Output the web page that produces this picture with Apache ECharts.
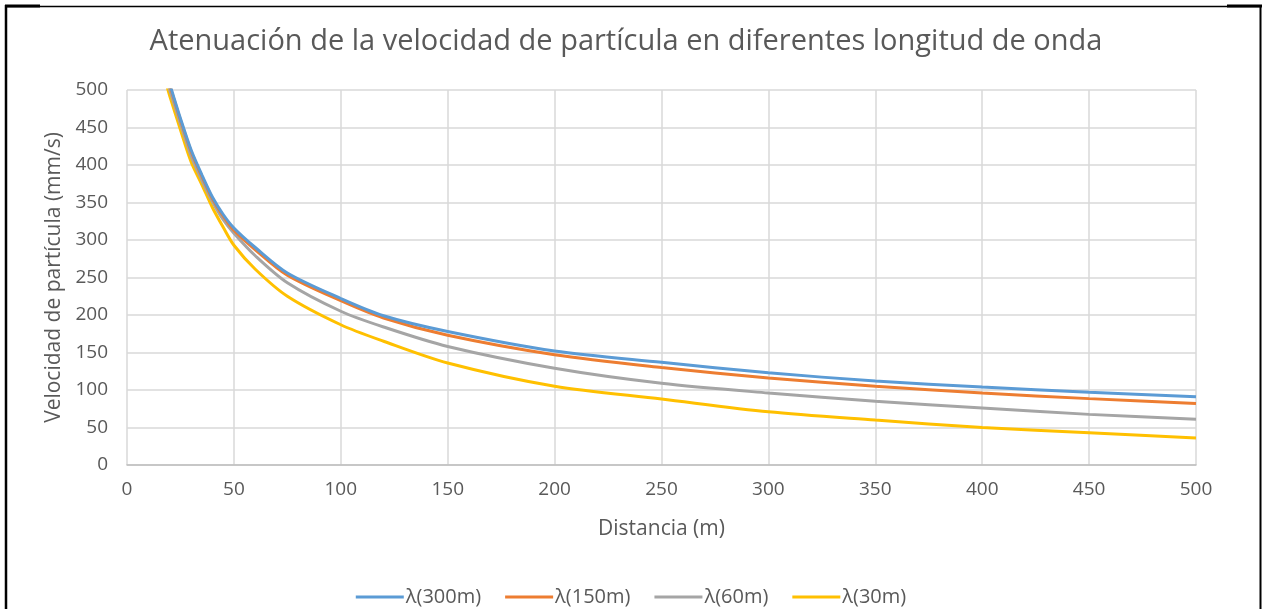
<!DOCTYPE html>
<html>
<head>
<meta charset="utf-8">
<script src="https://cdn.jsdelivr.net/npm/echarts@6/dist/echarts.min.js"></script>
<style>
html,body{margin:0;padding:0;background:#fff;}
#chart{width:1262px;height:609px;}
</style>
</head>
<body>
<div id="chart"></div>
<script>
var distancias = [18, 20, 25, 30, 35, 40, 45, 50, 60, 75, 100, 120, 150, 200, 250, 300, 350, 400, 450, 500];
var v300 = [528, 508, 462, 420, 387, 357, 334, 316, 290, 256, 222, 199, 178, 152, 137, 123, 112, 104, 97, 91];
var v150 = [526, 506, 460, 418, 385, 355, 332, 313, 287, 253, 219, 196, 173, 147, 130, 116, 105, 96, 88.5, 82];
var v60  = [520, 500, 455, 412, 380, 351, 327, 309, 279, 243, 205, 184, 158, 129, 109, 96, 85, 76, 67.5, 61];
var v30  = [512, 492, 447, 404, 374, 343, 317, 293, 261, 225, 187, 165, 136, 105, 88, 71, 60, 50, 43, 36];
var seriesNames = ['λ(300m)', 'λ(150m)', 'λ(60m)', 'λ(30m)'];
var colors = ['#5B9BD5', '#ED7D31', '#A5A5A5', '#FFC000'];
var titleText = 'Atenuación de la velocidad de partícula en diferentes longitud de onda';
var xName = 'Distancia (m)';
var yName = 'Velocidad de partícula (mm/s)';

var FONT = '"Open Sans", sans-serif';
var TXT = '#595959';

function pairs(vals) {
  return distancias.map(function (d, i) { return [d, vals[i]]; });
}
var allVals = [v300, v150, v60, v30];

var chart = echarts.init(document.getElementById('chart'), null, {renderer: 'canvas'});
chart.setOption({
  animation: false,
  backgroundColor: '#fff',
  title: {
    text: titleText,
    left: 621,
    top: 22,
    textAlign: 'center',
    textStyle: {fontFamily: FONT, fontSize: 29, fontWeight: 'normal', color: TXT}
  },
  legend: {
    data: seriesNames,
    left: 'center',
    top: 582,
    icon: 'rect',
    itemWidth: 48,
    itemHeight: 3,
    itemGap: 24,
    textStyle: {fontFamily: FONT, fontSize: 20, color: TXT, padding: [0, 0, 0, -3]}
  },
  grid: {left: 127, right: 66, top: 90, bottom: 144, containLabel: false},
  xAxis: {
    type: 'value',
    min: 0, max: 500, interval: 50,
    name: xName,
    nameLocation: 'middle',
    nameGap: 54,
    nameTextStyle: {fontFamily: FONT, fontSize: 21, color: TXT},
    axisLine: {show: true, lineStyle: {color: '#BFBFBF', width: 1.5}},
    axisTick: {show: false},
    axisLabel: {fontFamily: FONT, fontSize: 19, color: TXT, margin: 15},
    splitLine: {show: true, lineStyle: {color: '#D9D9D9', width: 1.5}}
  },
  yAxis: {
    type: 'value',
    min: 0, max: 500, interval: 50,
    name: yName,
    nameLocation: 'middle',
    nameGap: 62,
    nameTextStyle: {fontFamily: FONT, fontSize: 21, color: TXT},
    axisLine: {show: false},
    axisTick: {show: false},
    axisLabel: {fontFamily: FONT, fontSize: 19, color: TXT, margin: 19},
    splitLine: {show: true, lineStyle: {color: '#D9D9D9', width: 1.5}}
  },
  series: seriesNames.map(function (n, i) {
    return {
      name: n,
      type: 'line',
      data: pairs(allVals[i]),
      smooth: 0.3,
      symbol: 'none',
      clip: true,
      color: colors[i],
      lineStyle: {width: 3, color: colors[i]},
      z: 10 - i
    };
  }),
  graphic: [
    {type: 'line', shape: {x1: 6, y1: 6.5, x2: 1261, y2: 6.5}, style: {stroke: '#000', lineWidth: 1.5}, silent: true},
    {type: 'line', shape: {x1: 5, y1: 6, x2: 40, y2: 6}, style: {stroke: '#000', lineWidth: 3}, silent: true},
    {type: 'line', shape: {x1: 1227, y1: 6, x2: 1262, y2: 6}, style: {stroke: '#000', lineWidth: 3}, silent: true},
    {type: 'line', shape: {x1: 6, y1: 5, x2: 6, y2: 609}, style: {stroke: '#000', lineWidth: 2.5}, silent: true},
    {type: 'line', shape: {x1: 1260.5, y1: 5, x2: 1260.5, y2: 609}, style: {stroke: '#000', lineWidth: 2}, silent: true}
  ]
});
</script>
</body>
</html>
